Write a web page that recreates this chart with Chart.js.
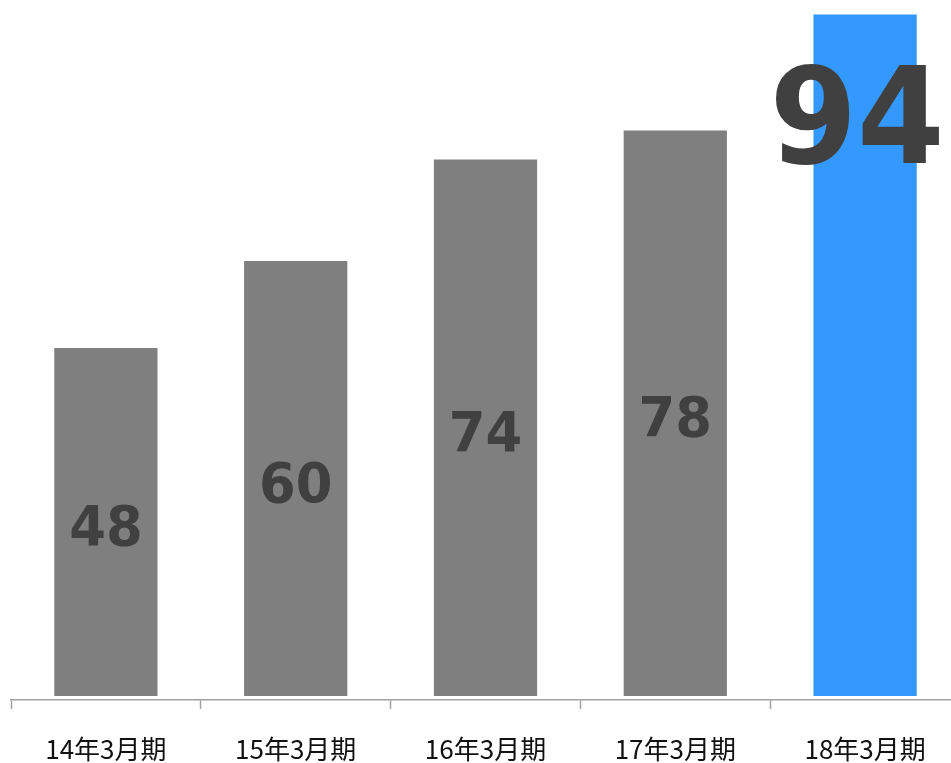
<!DOCTYPE html>
<html>
<head>
<meta charset="utf-8">
<script src="https://cdn.jsdelivr.net/npm/chart.js@4.4.1/dist/chart.umd.min.js"></script>
<style>
    html, body { margin: 0; padding: 0; background: #fff; overflow: hidden; }
    #wrap { position: relative; width: 960px; height: 763px; }
</style>
</head>
<body>
<div id="wrap"><canvas id="salesChart"></canvas></div>
<script>
// Data
const periods = ['14年3月期', '15年3月期', '16年3月期', '17年3月期', '18年3月期'];
const values = [48, 60, 74, 78, 94];
const barColors = ['#7f7f7f', '#7f7f7f', '#7f7f7f', '#7f7f7f', '#3399ff'];

const LABEL_FONT = '"DejaVu Sans", Verdana, sans-serif';

function drawChart() {
    // value labels drawn inside bars, last one big near the top
    const valueLabels = {
        id: 'valueLabels',
        afterDatasetsDraw(chart) {
            const ctx = chart.ctx;
            const bars = chart.getDatasetMeta(0).data;
            ctx.save();
            ctx.fillStyle = '#404040';
            ctx.textAlign = 'center';
            ctx.textBaseline = 'alphabetic';
            bars.forEach((bar, i) => {
                const last = i === bars.length - 1;
                const size = last ? 134 : 55;
                const cx = last ? bar.x - 8 : bar.x;
                const cy = last ? bar.y + 100 : (bar.y + bar.base) / 2 + 3;
                ctx.save();
                ctx.font = 'bold ' + size + 'px ' + LABEL_FONT;
                ctx.translate(cx, cy + size * 0.364);
                ctx.scale(last ? 0.94 : 0.96, 1);
                ctx.fillText(String(values[i]), 0, 0);
                ctx.restore();
            });
            ctx.restore();
        }
    };

    const ctx = document.getElementById('salesChart').getContext('2d');
    new Chart(ctx, {
        type: 'bar',
        data: {
            labels: periods,
            datasets: [{
                data: values,
                backgroundColor: barColors,
                borderWidth: 0,
                barPercentage: 0.544,
                categoryPercentage: 1.0
            }]
        },
        options: {
            responsive: true,
            maintainAspectRatio: false,
            animation: false,
            layout: { padding: { left: 11, right: 0, top: 0, bottom: 0 } },
            plugins: {
                legend: { display: false },
                tooltip: { enabled: false }
            },
            scales: {
                x: {
                    afterFit: (scale) => { scale.height = 63; },
                    grid: {
                        drawOnChartArea: false,
                        drawTicks: true,
                        tickLength: 9,
                        tickWidth: 1.5,
                        color: '#a0a0a0'
                    },
                    border: { display: true, color: '#a0a0a0', width: 1.5 },
                    ticks: {
                        padding: 25,
                        color: '#111111',
                        maxRotation: 0,
                        font: { family: '"Noto Sans CJK JP", sans-serif', size: 26 }
                    }
                },
                y: {
                    display: false,
                    min: -0.55,
                    max: 96
                }
            }
        },
        plugins: [valueLabels]
    });
}

document.addEventListener('DOMContentLoaded', function() {
    Promise.all([
        document.fonts.load('bold 55px ' + LABEL_FONT, '0123456789'),
        document.fonts.load('26px "Noto Sans CJK JP"', '14年3月期')
    ]).then(drawChart, drawChart);
});
</script>
</body>
</html>
